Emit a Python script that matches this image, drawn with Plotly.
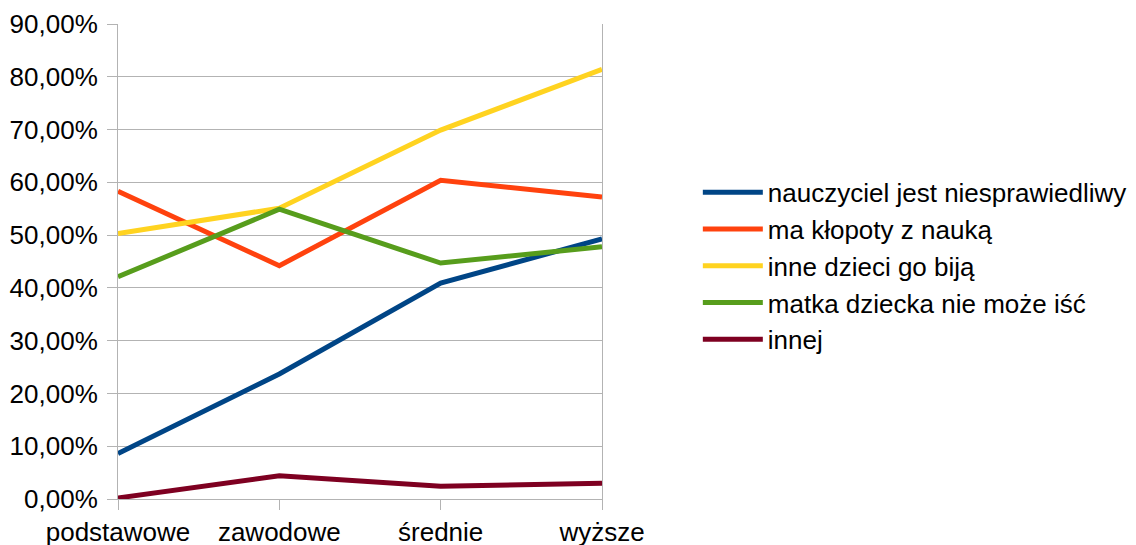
import plotly.graph_objects as go

categories = ["podstawowe", "zawodowe", "średnie", "wyższe"]

series_names = [
    "nauczyciel jest niesprawiedliwy",
    "ma kłopoty z nauką",
    "inne dzieci go biją",
    "matka dziecka nie może iść",
    "innej",
]

nauczyciel = [0.086, 0.237, 0.409, 0.493]
klopoty = [0.583, 0.442, 0.604, 0.572]
bija = [0.503, 0.551, 0.699, 0.814]
matka = [0.421, 0.549, 0.447, 0.478]
innej = [0.002, 0.044, 0.024, 0.030]

colors = ["#004586", "#ff420e", "#ffd320", "#579d1c", "#7e0021"]

fig = go.Figure()
for name, vals, col in zip(series_names, [nauczyciel, klopoty, bija, matka, innej], colors):
    fig.add_trace(
        go.Scatter(
            x=categories,
            y=vals,
            mode="lines",
            name=name,
            line=dict(color=col, width=5),
        )
    )

fig.update_layout(
    width=1136,
    height=545,
    margin=dict(l=110, r=539, t=16, b=54),
    paper_bgcolor="white",
    plot_bgcolor="white",
    font=dict(family="Liberation Sans, Arial, sans-serif", size=26, color="#000000"),
    separators=", ",
    showlegend=True,
    legend=dict(
        x=1.198,
        y=0.49,
        xanchor="left",
        yanchor="middle",
        font=dict(size=26),
        tracegroupgap=0,
        itemwidth=60,
    ),
    xaxis=dict(
        type="category",
        range=[0, 3],
        showgrid=False,
        showline=True,
        linecolor="#b3b3b3",
        linewidth=1,
        ticks="outside",
        ticklen=10,
        tickcolor="#b3b3b3",
        zeroline=False,
        automargin=False,
    ),
    yaxis=dict(
        range=[0, 0.9],
        dtick=0.1,
        tickformat=".2%",
        showgrid=True,
        gridcolor="#b3b3b3",
        gridwidth=1,
        showline=True,
        mirror=True,
        linecolor="#b3b3b3",
        linewidth=1,
        ticks="outside",
        ticklen=10,
        tickcolor="#b3b3b3",
        ticklabelstandoff=4,
        zeroline=False,
        automargin=False,
    ),
)

fig.write_html("out.html")
